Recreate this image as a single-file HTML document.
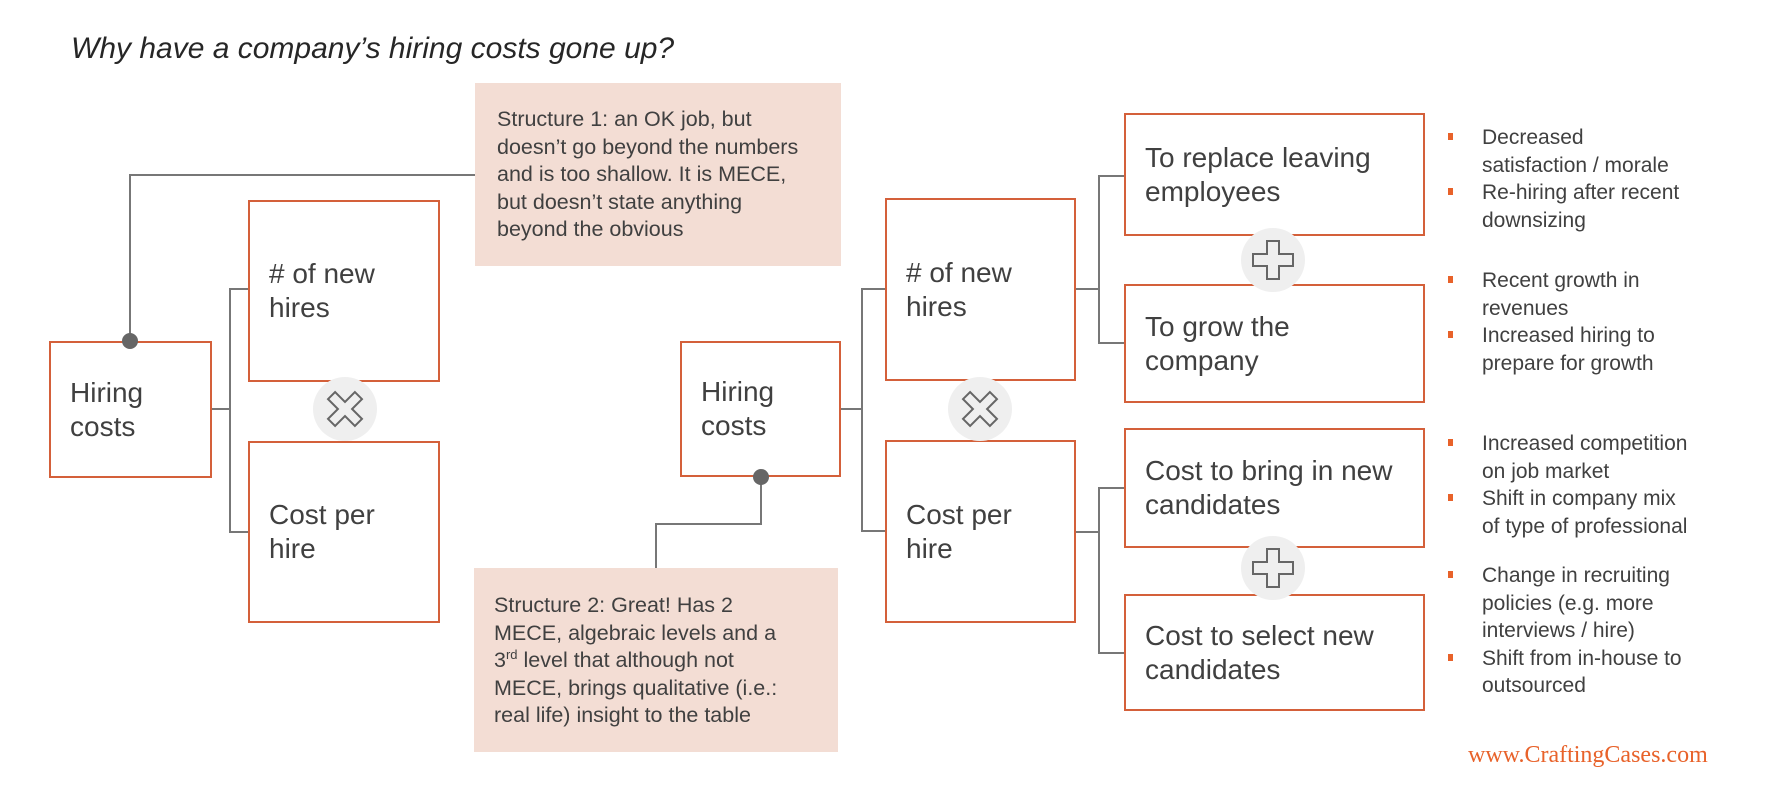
<!DOCTYPE html>
<html><head><meta charset="utf-8"><style>
body{margin:0;width:1784px;height:806px;background:#fff;position:relative;overflow:hidden;font-family:"Liberation Sans",Arial,sans-serif;color:#404040}
.t{position:absolute;left:71px;top:32px;font-size:30px;font-style:italic;color:#262626;white-space:nowrap}
.box{position:absolute;border:2px solid #d4603a;box-sizing:border-box;display:flex;align-items:center;padding-left:19px;font-size:28px;line-height:34px;background:#fff}
.call{position:absolute;background:#f3ddd4;font-size:21.5px;line-height:27.5px;box-sizing:border-box;color:#404040;white-space:nowrap}
.bl{position:absolute;left:1482px;font-size:21px;line-height:27.5px;white-space:nowrap}
.bl div{position:relative}
.bl div::before{content:"";position:absolute;left:-34px;top:9px;width:5px;height:7px;background:#e8622a}
svg{position:absolute;left:0;top:0}
.ft{position:absolute;left:1468px;top:742px;font-family:"Liberation Serif",serif;font-size:24px;color:#e8622a;white-space:nowrap}
</style></head><body>
<div class="t">Why have a company’s hiring costs gone up?</div>

<svg width="1784" height="806">
<g stroke="#777" stroke-width="2" fill="none">
<polyline points="130,341 130,175 477,175"/>
<polyline points="212,409 230,409"/>
<polyline points="248,289 230,289 230,532 248,532"/>
<polyline points="761,477 761,524 656,524 656,568"/>
<polyline points="841,409 862,409"/>
<polyline points="885,289 862,289 862,531 885,531"/>
<polyline points="1076,289 1099,289"/>
<polyline points="1124,176 1099,176 1099,343 1124,343"/>
<polyline points="1076,532 1099,532"/>
<polyline points="1124,488 1099,488 1099,653 1124,653"/>
</g>
</svg>

<div class="box" style="left:49px;top:341px;width:163px;height:137px">Hiring<br>costs</div>
<div class="box" style="left:248px;top:200px;width:192px;height:182px">#&nbsp;of new<br>hires</div>
<div class="box" style="left:248px;top:441px;width:192px;height:182px">Cost per<br>hire</div>
<div class="box" style="left:680px;top:341px;width:161px;height:136px">Hiring<br>costs</div>
<div class="box" style="left:885px;top:198px;width:191px;height:183px">#&nbsp;of new<br>hires</div>
<div class="box" style="left:885px;top:440px;width:191px;height:183px">Cost per<br>hire</div>
<div class="box" style="left:1124px;top:113px;width:301px;height:123px">To replace leaving<br>employees</div>
<div class="box" style="left:1124px;top:284px;width:301px;height:119px">To grow the<br>company</div>
<div class="box" style="left:1124px;top:428px;width:301px;height:120px">Cost to bring in new<br>candidates</div>
<div class="box" style="left:1124px;top:594px;width:301px;height:117px">Cost to select new<br>candidates</div>

<div class="call" style="left:475px;top:83px;width:366px;height:183px;padding:23px 0 0 22px">Structure 1: an OK job, but<br>doesn’t go beyond the numbers<br>and is too shallow. It is MECE,<br>but doesn’t state anything<br>beyond the obvious</div>
<div class="call" style="left:474px;top:568px;width:364px;height:184px;padding:24px 0 0 20px">Structure 2: Great! Has 2<br>MECE, algebraic levels and a<br>3<sup style="font-size:13px;line-height:0">rd</sup> level that although not<br>MECE, brings qualitative (i.e.:<br>real life) insight to the table</div>

<svg width="1784" height="806">
<circle cx="130" cy="341" r="8" fill="#666"/>
<circle cx="761" cy="477" r="8" fill="#666"/>
<g fill="#efefef"><circle cx="345" cy="409" r="32"/><circle cx="980" cy="409" r="32"/><circle cx="1273" cy="260" r="32"/><circle cx="1273" cy="568" r="32"/></g>
<g fill="none" stroke="#666" stroke-width="2">
<polygon transform="translate(345,409) rotate(45)" points="-5,-19 5,-19 5,-5 19,-5 19,5 5,5 5,19 -5,19 -5,5 -19,5 -19,-5 -5,-5"/>
<polygon transform="translate(980,409) rotate(45)" points="-5,-19 5,-19 5,-5 19,-5 19,5 5,5 5,19 -5,19 -5,5 -19,5 -19,-5 -5,-5"/>
<polygon transform="translate(1273,260)" points="-6,-19 6,-19 6,-6 20,-6 20,6 6,6 6,19 -6,19 -6,6 -20,6 -20,-6 -6,-6"/>
<polygon transform="translate(1273,568)" points="-6,-19 6,-19 6,-6 20,-6 20,6 6,6 6,19 -6,19 -6,6 -20,6 -20,-6 -6,-6"/>
</g>
</svg>

<div class="bl" style="top:124px"><div>Decreased<br>satisfaction / morale</div><div>Re-hiring after recent<br>downsizing</div></div>
<div class="bl" style="top:267px"><div>Recent growth in<br>revenues</div><div>Increased hiring to<br>prepare for growth</div></div>
<div class="bl" style="top:430px"><div>Increased competition<br>on job market</div><div>Shift in company mix<br>of type of professional</div></div>
<div class="bl" style="top:562px"><div>Change in recruiting<br>policies (e.g. more<br>interviews / hire)</div><div>Shift from in-house to<br>outsourced</div></div>

<div class="ft">www.CraftingCases.com</div>
</body></html>
